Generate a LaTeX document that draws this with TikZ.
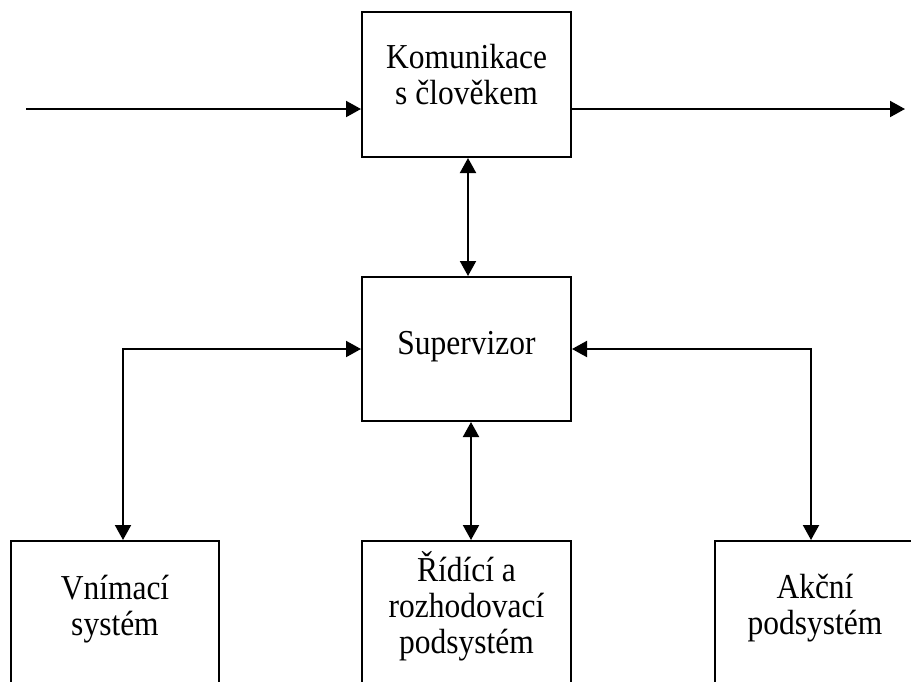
\documentclass[tikz,border=0pt]{standalone}
\usepackage{fontspec}
\setmainfont{Liberation Serif}
\newfontfamily\narrowserif[FakeStretch=0.9]{Liberation Serif}
\usetikzlibrary{arrows.meta}
\begin{document}
\begin{tikzpicture}[x=1pt,y=-1pt,
  blk/.style={draw, line width=2pt, inner sep=0pt, minimum width=209pt},
  lbl/.style={inner sep=0pt, align=center, font=\narrowserif\fontsize{35}{36}\selectfont},
  conn/.style={line width=2pt, -{Triangle[length=15pt,width=16pt]}},
  dconn/.style={line width=2pt, {Triangle[length=15pt,width=16pt]}-{Triangle[length=15pt,width=16pt]}}]
\useasboundingbox (0,0) rectangle (911,681);
\clip (0,0) rectangle (911,681);
% boxes
\node[blk, minimum height=145pt] (top) at (466.5,84.5) {};
\node[blk, minimum height=144pt] (sup) at (466.5,349) {};
\node[blk, minimum width=208pt, minimum height=200pt] (lb) at (115,641) {};
\node[blk, minimum height=200pt] (mb) at (466.5,641) {};
\node[blk, minimum width=208pt, minimum height=200pt] (rb) at (819,641) {};
% texts
\node[lbl] (ttop) at (466.5,75) {Komunikace\\s člověkem};
\node[lbl] (tsup) at (466.5,347) {Supervizor};
\node[lbl] (tlb) at (115,609) {Vnímací\\systém};
\node[lbl] (tmb) at (466.5,606.2) {Řídící a\\rozhodovací\\podsystém};
\node[lbl] (trb) at (815,608.5) {Akční\\podsystém};
% external arrows
\coordinate (in) at (26,109);
\coordinate (out) at (905,109);
\draw[conn] (in) -- (top.west |- in);
\draw[conn] (top.east |- out) -- (out);
% connectors
\draw[dconn] ([xshift=1.5pt]top.south) -- ([xshift=1.5pt]sup.north);
\draw[dconn] ([xshift=4.5pt]sup.south) -- ([xshift=4.5pt]mb.north);
\draw[dconn] (sup.west) -| ([xshift=8pt]lb.north);
\draw[dconn] (sup.east) -| ([xshift=-8pt]rb.north);
\end{tikzpicture}
\end{document}
